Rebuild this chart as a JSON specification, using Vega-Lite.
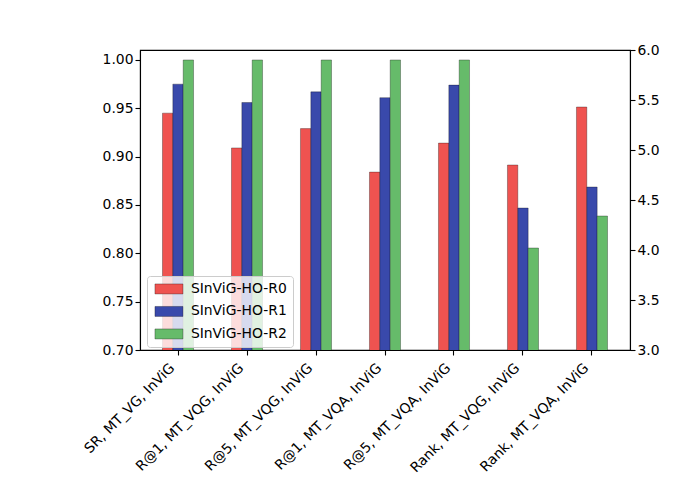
{
  "$schema": "https://vega.github.io/schema/vega-lite/v6.json",
  "width": 490,
  "height": 300,
  "autosize": {"type": "none"},
  "padding": {"left": 140, "top": 50, "right": 70, "bottom": 150},
  "background": "white",
  "config": {
    "font": "DejaVu Sans",
    "view": {"stroke": "black", "strokeWidth": 1.1},
    "axis": {
      "labelFont": "DejaVu Sans",
      "labelFontSize": 13.9,
      "labelColor": "black",
      "domainColor": "black",
      "domainWidth": 1.1,
      "tickColor": "black",
      "tickSize": 5,
      "tickWidth": 1.1,
      "grid": false,
      "title": null
    }
  },
  "data": {
    "values": [
      {"metric": "SR, MT_VG, InViG", "model": "SInViG-HO-R0", "value": 0.945, "side": "left"},
      {"metric": "SR, MT_VG, InViG", "model": "SInViG-HO-R1", "value": 0.975, "side": "left"},
      {"metric": "SR, MT_VG, InViG", "model": "SInViG-HO-R2", "value": 1.0, "side": "left"},
      {"metric": "R@1, MT_VQG, InViG", "model": "SInViG-HO-R0", "value": 0.909, "side": "left"},
      {"metric": "R@1, MT_VQG, InViG", "model": "SInViG-HO-R1", "value": 0.956, "side": "left"},
      {"metric": "R@1, MT_VQG, InViG", "model": "SInViG-HO-R2", "value": 1.0, "side": "left"},
      {"metric": "R@5, MT_VQG, InViG", "model": "SInViG-HO-R0", "value": 0.929, "side": "left"},
      {"metric": "R@5, MT_VQG, InViG", "model": "SInViG-HO-R1", "value": 0.967, "side": "left"},
      {"metric": "R@5, MT_VQG, InViG", "model": "SInViG-HO-R2", "value": 1.0, "side": "left"},
      {"metric": "R@1, MT_VQA, InViG", "model": "SInViG-HO-R0", "value": 0.884, "side": "left"},
      {"metric": "R@1, MT_VQA, InViG", "model": "SInViG-HO-R1", "value": 0.961, "side": "left"},
      {"metric": "R@1, MT_VQA, InViG", "model": "SInViG-HO-R2", "value": 1.0, "side": "left"},
      {"metric": "R@5, MT_VQA, InViG", "model": "SInViG-HO-R0", "value": 0.914, "side": "left"},
      {"metric": "R@5, MT_VQA, InViG", "model": "SInViG-HO-R1", "value": 0.974, "side": "left"},
      {"metric": "R@5, MT_VQA, InViG", "model": "SInViG-HO-R2", "value": 1.0, "side": "left"},
      {"metric": "Rank, MT_VQG, InViG", "model": "SInViG-HO-R0", "value": 4.85, "side": "right"},
      {"metric": "Rank, MT_VQG, InViG", "model": "SInViG-HO-R1", "value": 4.42, "side": "right"},
      {"metric": "Rank, MT_VQG, InViG", "model": "SInViG-HO-R2", "value": 4.02, "side": "right"},
      {"metric": "Rank, MT_VQA, InViG", "model": "SInViG-HO-R0", "value": 5.43, "side": "right"},
      {"metric": "Rank, MT_VQA, InViG", "model": "SInViG-HO-R1", "value": 4.63, "side": "right"},
      {"metric": "Rank, MT_VQA, InViG", "model": "SInViG-HO-R2", "value": 4.34, "side": "right"}
    ]
  },
  "encoding": {
    "x": {
      "field": "metric",
      "type": "nominal",
      "sort": null,
      "scale": {
        "domain": ["SR, MT_VG, InViG", "R@1, MT_VQG, InViG", "R@5, MT_VQG, InViG", "R@1, MT_VQA, InViG", "R@5, MT_VQA, InViG", "Rank, MT_VQG, InViG", "Rank, MT_VQA, InViG"],
        "paddingInner": 0.55,
        "paddingOuter": 0.326
      },
      "axis": {"labelAngle": -45, "labelAlign": "right", "labelBaseline": "middle", "labelPadding": 10.5, "labelOffset": -5.5}
    },
    "xOffset": {"field": "model", "type": "nominal", "scale": {"paddingInner": 0}},
    "color": {
      "field": "model",
      "type": "nominal",
      "scale": {
        "domain": ["SInViG-HO-R0", "SInViG-HO-R1", "SInViG-HO-R2"],
        "range": ["#EF5350", "#3949AB", "#66BB6A"]
      },
      "legend": {
        "title": null,
        "orient": "none",
        "legendX": 7,
        "legendY": 226,
        "padding": 6,
        "fillColor": "rgba(255,255,255,0.8)",
        "strokeColor": "#cccccc",
        "cornerRadius": 3,
        "labelFont": "DejaVu Sans",
        "labelFontSize": 13.9,
        "labelColor": "black",
        "labelOffset": 24,
        "rowPadding": 7.5,
        "symbolType": "M-1,-1H4.6V1H-1Z",
        "symbolSize": 100,
        "symbolStrokeColor": "rgba(0,0,0,0.3)",
        "symbolStrokeWidth": 1,
        "symbolOpacity": 1
      }
    }
  },
  "layer": [
    {
      "transform": [{"filter": "datum.side == 'left'"}],
      "mark": {"type": "bar", "clip": true, "stroke": "black", "strokeOpacity": 0.3, "strokeWidth": 1},
      "encoding": {
        "y": {
          "field": "value",
          "type": "quantitative",
          "scale": {"domain": [0.7, 1.0103], "nice": false, "zero": false},
          "axis": {"values": [0.7, 0.75, 0.8, 0.85, 0.9, 0.95, 1.0], "format": ".2f", "orient": "left"}
        }
      }
    },
    {
      "transform": [{"filter": "datum.side == 'right'"}],
      "mark": {"type": "bar", "clip": true, "stroke": "black", "strokeOpacity": 0.3, "strokeWidth": 1},
      "encoding": {
        "y": {
          "field": "value",
          "type": "quantitative",
          "scale": {"domain": [3, 6], "nice": false, "zero": false},
          "axis": {"values": [3, 3.5, 4, 4.5, 5, 5.5, 6], "format": ".1f", "orient": "right"}
        }
      }
    }
  ],
  "resolve": {"scale": {"y": "independent"}, "axis": {"y": "independent"}}
}
